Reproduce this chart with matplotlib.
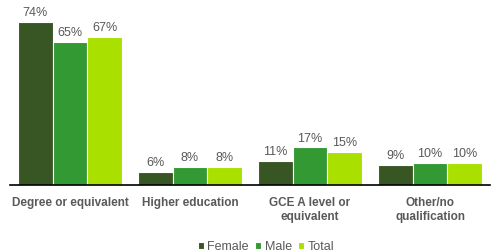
import numpy as np
import matplotlib
matplotlib.use("Agg")
import matplotlib.pyplot as plt

categories = ["Degree or equivalent", "Higher education", "GCE A level or\nequivalent", "Other/no\nqualification"]
female = [74, 6, 11, 9]
male = [65, 8, 17, 10]
total = [67, 8, 15, 10]

series = [("Female", female, "#375623"), ("Male", male, "#339933"), ("Total", total, "#a9e000")]
grey = "#595959"

fig = plt.figure(figsize=(5, 2.52), dpi=100)
ax = fig.add_axes([0.02, 0.266, 0.96, 0.70])

x = np.arange(len(categories))
w = 0.29
for i, (name, vals, col) in enumerate(series):
    pos = x + (i - 1) * w
    bars = ax.bar(pos, vals, width=w, color=col, edgecolor="white", linewidth=0.8, label=name)
    for b, v in zip(bars, vals):
        ax.text(b.get_x() + b.get_width() / 2, v + 1.3, f"{v}%", ha="center", va="bottom",
                fontsize=9, color=grey, family="Liberation Sans")

ax.set_xlim(-0.5, 3.5)
ax.set_ylim(0, 80)
ax.set_yticks([])
ax.set_xticks(x)
ax.set_xticklabels(categories, fontsize=8.5, fontweight="bold", color=grey, family="Liberation Sans",
                   linespacing=1.15, va="top")
ax.tick_params(axis="x", length=0, pad=9)
for s in ["top", "right", "left"]:
    ax.spines[s].set_visible(False)
ax.spines["bottom"].set_color("black")
ax.spines["bottom"].set_linewidth(1.2)

leg = fig.legend(loc="lower center", bbox_to_anchor=(0.532, -0.05), ncol=3, frameon=False,
                 handlelength=0.5, handleheight=0.5, handletextpad=0.25, columnspacing=0.5,
                 prop={"family": "Liberation Sans", "size": 9})
for t in leg.get_texts():
    t.set_color(grey)

fig.savefig("out.png", dpi=100)
